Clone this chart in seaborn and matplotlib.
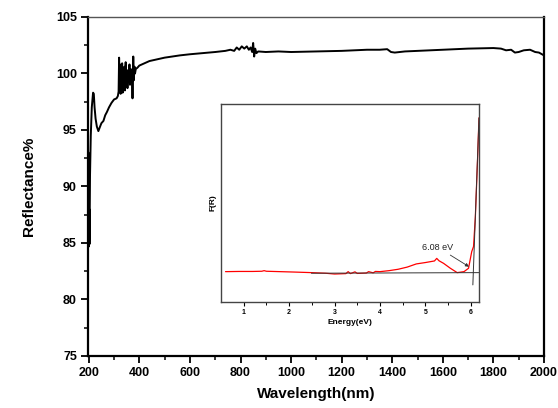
"""Diffuse reflectance spectrum with Kubelka-Munk inset."""

import matplotlib
matplotlib.use("Agg")
import matplotlib.pyplot as plt
import pandas as pd
import seaborn as sns

# main spectrum
wavelength = [
    199, 200, 201, 202, 203, 205, 208, 212, 217, 220, 223, 227, 232, 238, 243,
    250, 258, 265, 272, 280, 290, 300, 310, 315,
    318, 320, 322, 324, 326, 328, 330, 332, 334, 336, 338, 341, 343, 346, 348,
    351, 353, 356, 358, 361, 363, 366, 368, 371, 373, 376, 378, 381, 383, 386,
    392, 400, 420, 440, 460, 480, 500, 530, 560, 600, 650, 700, 740, 760, 775,
    785, 795, 805, 815, 825, 833, 840, 846, 850, 854, 858, 863, 870, 900, 950,
    1000, 1100, 1200, 1300, 1350, 1380, 1395, 1410, 1450, 1500, 1600, 1700,
    1800, 1830, 1850, 1870, 1885, 1900, 1920, 1945, 1965, 1980, 2000,
]
reflectance = [
    93.0, 86.0, 84.7, 88.0, 84.9, 91.0, 94.5, 97.0, 98.3, 98.2, 97.0, 96.0, 95.3, 94.9, 95.2,
    95.6, 95.8, 96.3, 96.6, 97.0, 97.4, 97.7, 97.8, 98.0,
    98.4, 101.4, 98.6, 100.8, 98.2, 100.2, 99.0, 100.9, 98.3, 99.8, 98.8, 100.6, 98.5, 101.0, 99.2,
    100.3, 98.7, 100.1, 99.4, 100.8, 99.0, 100.4, 99.6, 100.0, 97.8, 101.5, 99.4, 100.6, 100.0, 100.4,
    100.5, 100.7, 100.9, 101.1, 101.2, 101.3, 101.4, 101.5, 101.6, 101.7, 101.8, 101.9, 102.0, 102.1, 102.0,
    102.3, 102.1, 102.4, 102.2, 102.4, 102.1, 102.3, 101.9, 102.7, 101.5, 102.2, 101.8, 101.95, 101.9, 101.95,
    101.9, 101.95, 102.0, 102.1, 102.1, 102.15, 101.9, 101.85, 101.95, 102.0, 102.1, 102.2,
    102.25, 102.2, 102.05, 102.1, 101.85, 101.9, 102.05, 102.1, 101.9, 101.85, 101.6,
]

# inset: F(R) vs photon energy (arbitrary units)
energy = [
    0.6, 0.9, 1.2, 1.4, 1.45, 1.5, 1.8, 2.1, 2.5, 2.8, 3.0, 3.25, 3.3, 3.35, 3.45,
    3.5, 3.7, 3.75, 3.85, 3.9, 4.0, 4.2, 4.4, 4.6, 4.8, 5.0, 5.1, 5.2, 5.25, 5.3,
    5.4, 5.55, 5.7, 5.85, 5.95, 6.02, 6.06, 6.1, 6.15, 6.18,
]
f_r = [
    0.153, 0.154, 0.154, 0.155, 0.158, 0.155, 0.153, 0.151, 0.148, 0.145, 0.141, 0.143, 0.153, 0.143, 0.152,
    0.144, 0.146, 0.153, 0.147, 0.154, 0.153, 0.158, 0.165, 0.176, 0.192, 0.199, 0.203, 0.207, 0.220, 0.208,
    0.195, 0.170, 0.148, 0.153, 0.170, 0.254, 0.280, 0.430, 0.730, 0.930,
]
baseline_e = [2.49, 6.18]
baseline_f = [0.145, 0.148]
tangent_e = [6.045, 6.18]
tangent_f = [0.086, 0.93]

sns.set_style("ticks")
plt.rcParams["font.family"] = ["Liberation Sans", "DejaVu Sans"]
plt.rcParams.update({"text.color": "black", "axes.labelcolor": "black",
                     "xtick.color": "black", "ytick.color": "black"})

fig = plt.figure(figsize=(5.58, 4.08), dpi=100)
ax = fig.add_axes([0.1577, 0.1275, 0.8172, 0.8309])

main_df = pd.DataFrame({"wl": wavelength, "R": reflectance})
sns.lineplot(data=main_df, x="wl", y="R", ax=ax, color="black", lw=1.4, sort=False)
ax.set_xlim(197, 2000)
ax.set_ylim(75, 105)
ax.set_xticks(range(200, 2001, 200))
ax.set_xticks(range(300, 2000, 200), minor=True)
ax.set_yticks(range(75, 106, 5))
ax.set_yticks([77.5, 82.5, 87.5, 92.5, 97.5, 102.5], minor=True)
ax.tick_params(which="major", direction="out", length=5, width=1.3, labelsize=9, pad=3)
ax.tick_params(which="minor", direction="out", length=3, width=1.1)
for lab in ax.get_xticklabels() + ax.get_yticklabels():
    lab.set_fontweight("bold")
ax.set_xlabel("Wavelength(nm)", fontsize=11, fontweight="bold", labelpad=6)
ax.set_ylabel("Reflectance%", fontsize=11, fontweight="bold", labelpad=14)
for side in ["left", "bottom", "right"]:
    ax.spines[side].set_linewidth(1.6)
    ax.spines[side].set_color("black")
ax.spines["top"].set_linewidth(1.0)
ax.spines["top"].set_color("#555555")

# inset
ins = fig.add_axes([0.396, 0.26, 0.4624, 0.485])
inset_df = pd.DataFrame({"E": energy, "F": f_r})
sns.lineplot(data=inset_df, x="E", y="F", ax=ins, color="red", lw=0.9, sort=False)
ins.plot(baseline_e, baseline_f, color="#333333", lw=0.7)
ins.plot(tangent_e, tangent_f, color="#333333", lw=0.7)
ins.annotate("6.08 eV", xy=(5.96, 0.178), xytext=(4.93, 0.276),
             fontsize=6.5, va="center", ha="left", color="#222222",
             arrowprops=dict(arrowstyle="-|>", color="#333333", lw=0.6,
                             mutation_scale=5, shrinkA=0, shrinkB=0),
             )
ins.set_xlim(0.5, 6.18)
ins.set_ylim(0, 1)
ins.set_xticks(range(1, 7))
ins.set_xticks([1.5, 2.5, 3.5, 4.5, 5.5], minor=True)
ins.set_yticks([])
ins.tick_params(which="major", direction="out", length=3, width=0.8, labelsize=5, pad=2)
ins.tick_params(which="minor", direction="out", length=2, width=0.7)
for lab in ins.get_xticklabels():
    lab.set_fontweight("bold")
ins.set_xlabel("Energy(eV)", fontsize=6, fontweight="bold", labelpad=2)
ins.set_ylabel("F(R)", fontsize=6, fontweight="bold", labelpad=3)
for side in ins.spines:
    ins.spines[side].set_linewidth(1.0)
    ins.spines[side].set_color("#444444")

fig.savefig("out.png", dpi=100)
